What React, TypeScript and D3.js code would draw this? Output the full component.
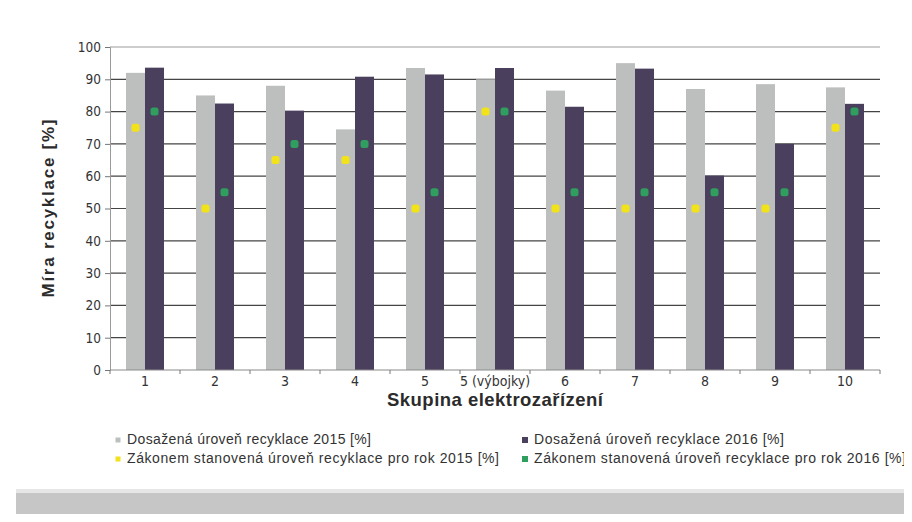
import React, { useRef, useEffect } from 'react';
import * as d3 from 'd3';

// skupiny elektrozařízení
const categories = ['1', '2', '3', '4', '5', '5 (výbojky)', '6', '7', '8', '9', '10'];
const achieved2015 = [92, 85, 88, 74.5, 93.5, 90, 86.5, 95, 87, 88.5, 87.5];
const achieved2016 = [93.6, 82.5, 80.3, 90.8, 91.5, 93.5, 81.5, 93.3, 60.2, 70, 82.4];
const target2015 = [75, 50, 65, 65, 50, 80, 50, 50, 50, 50, 75];
const target2016 = [80, 55, 70, 70, 55, 80, 55, 55, 55, 55, 80];
const yTicks = [0, 10, 20, 30, 40, 50, 60, 70, 80, 90, 100];

const legendItems = [
  { label: 'Dosažená úroveň recyklace 2015 [%]', color: '#bdbfbf', size: 5, len: 244 },
  { label: 'Dosažená úroveň recyklace 2016 [%]', color: '#4a3f5c', size: 6, len: 250 },
  { label: 'Zákonem stanovená úroveň recyklace pro rok 2015 [%]', color: '#f2e21a', size: 5, len: 372 },
  { label: 'Zákonem stanovená úroveň recyklace pro rok 2016 [%]', color: '#2f9e5e', size: 6, len: 372 },
];

const W = 912;
const H = 522;
const margin = { left: 110, right: 32, top: 47, bottom: 152 };

export default function App() {
  const svgRef = useRef<SVGSVGElement>(null);

  useEffect(() => {
    const svg = d3.select(svgRef.current);
    svg.selectAll('*').remove();

    const width = W - margin.left - margin.right;
    const height = H - margin.top - margin.bottom;

    const x = d3.scaleBand().domain(categories).range([0, width]).paddingInner(0).paddingOuter(0);
    const inner = d3.scaleBand().domain(['a', 'b']).range([x.bandwidth() / 2 - 19, x.bandwidth() / 2 + 19]);
    const y = d3.scaleLinear().domain([0, 100]).range([height, 0]);

    const narrow = '"Liberation Sans Narrow", "DejaVu Sans Condensed", sans-serif';
    const sans = '"Liberation Sans", Arial, sans-serif';

    // spodní šedý pruh
    svg.append('rect').attr('x', 16).attr('y', 493).attr('width', W - 16).attr('height', H - 493).attr('fill', '#c6c6c6');
    svg.append('rect').attr('x', 16).attr('y', 489).attr('width', W - 16).attr('height', 4).attr('fill', '#e6e6e6');

    const g = svg.append('g').attr('transform', `translate(${margin.left},${margin.top})`);

    // mřížka
    g.selectAll('.grid')
      .data(yTicks.filter((t) => t > 0))
      .join('line')
      .attr('x1', 0)
      .attr('x2', width)
      .attr('y1', (d) => y(d))
      .attr('y2', (d) => y(d))
      .attr('stroke', (d) => (d === 100 ? '#9a9a9a' : '#444'))
      .attr('stroke-width', 1.2);

    // osa y
    const yAxis = d3.axisLeft(y).tickValues(yTicks).tickSize(5).tickPadding(4);
    const ya = g.append('g').call(yAxis);
    ya.select('.domain').attr('stroke', '#9a9a9a');
    ya.selectAll('.tick line').attr('stroke', '#777');
    ya.selectAll('text').attr('font-family', narrow).attr('font-size', 13.5).attr('fill', '#333');

    // sloupce
    const groups = g
      .selectAll('.grp')
      .data(categories)
      .join('g')
      .attr('transform', (d) => `translate(${x(d)},0)`);

    groups
      .append('rect')
      .attr('x', inner('a')!)
      .attr('width', inner.bandwidth())
      .attr('y', (_, i) => y(achieved2015[i]))
      .attr('height', (_, i) => height - y(achieved2015[i]))
      .attr('fill', '#bdbfbf');

    groups
      .append('rect')
      .attr('x', inner('b')!)
      .attr('width', inner.bandwidth())
      .attr('y', (_, i) => y(achieved2016[i]))
      .attr('height', (_, i) => height - y(achieved2016[i]))
      .attr('fill', '#4a3f5c');

    // zákonné cíle
    const m = 8;
    groups
      .append('rect')
      .attr('x', inner('a')! + inner.bandwidth() / 2 - m / 2)
      .attr('y', (_, i) => y(target2015[i]) - m / 2)
      .attr('width', m)
      .attr('height', m)
      .attr('rx', 2.5)
      .attr('fill', '#f2e21a');

    groups
      .append('rect')
      .attr('x', inner('b')! + inner.bandwidth() / 2 - m / 2)
      .attr('y', (_, i) => y(target2016[i]) - m / 2)
      .attr('width', m)
      .attr('height', m)
      .attr('rx', 2.5)
      .attr('fill', '#2f9e5e');

    // osa x
    const xa = g.append('g').attr('transform', `translate(0,${height})`);
    xa.append('line').attr('x1', 0).attr('x2', width).attr('stroke', '#8a8a8a');
    xa.selectAll('.tk')
      .data(d3.range(categories.length + 1))
      .join('line')
      .attr('x1', (i) => i * x.step())
      .attr('x2', (i) => i * x.step())
      .attr('y1', 0)
      .attr('y2', 4)
      .attr('stroke', '#777');
    xa.selectAll('.lbl')
      .data(categories)
      .join('text')
      .attr('x', (d) => x(d)! + x.bandwidth() / 2)
      .attr('y', 16)
      .attr('text-anchor', 'middle')
      .attr('font-family', narrow)
      .attr('font-size', 14)
      .attr('fill', '#333')
      .text((d) => d);

    // popisy os
    svg
      .append('text')
      .attr('x', margin.left + width / 2)
      .attr('y', 406)
      .attr('text-anchor', 'middle')
      .attr('font-family', sans)
      .attr('font-weight', 'bold')
      .attr('font-size', 18.5)
      .attr('fill', '#2b2b2b')
      .attr('textLength', 216)
      .text('Skupina elektrozařízení');

    svg
      .append('text')
      .attr('transform', `translate(54,${margin.top + height / 2}) rotate(-90)`)
      .attr('text-anchor', 'middle')
      .attr('font-family', sans)
      .attr('font-weight', 'bold')
      .attr('font-size', 17)
      .attr('fill', '#2b2b2b')
      .attr('textLength', 178)
      .text('Míra recyklace [%]');

    // legenda
    const cols = [118, 525];
    const rows = [444, 463];
    const lg = svg
      .selectAll('.leg')
      .data(legendItems)
      .join('g')
      .attr('transform', (_, i) => `translate(${cols[i % 2]},${rows[Math.floor(i / 2)]})`);
    lg.append('rect')
      .attr('x', (d) => -d.size / 2)
      .attr('y', (d) => -4 - d.size / 2)
      .attr('width', (d) => d.size)
      .attr('height', (d) => d.size)
      .attr('fill', (d) => d.color);
    lg.append('text')
      .attr('x', 9)
      .attr('y', 0)
      .attr('font-family', sans)
      .attr('font-size', 14)
      .attr('fill', '#333')
      .attr('textLength', (d) => d.len)
      .text((d) => d.label);
  }, []);

  return (
    <svg ref={svgRef} width={W} height={H} style={{ display: 'block', margin: '-8px', background: '#fff' }} />
  );
}
